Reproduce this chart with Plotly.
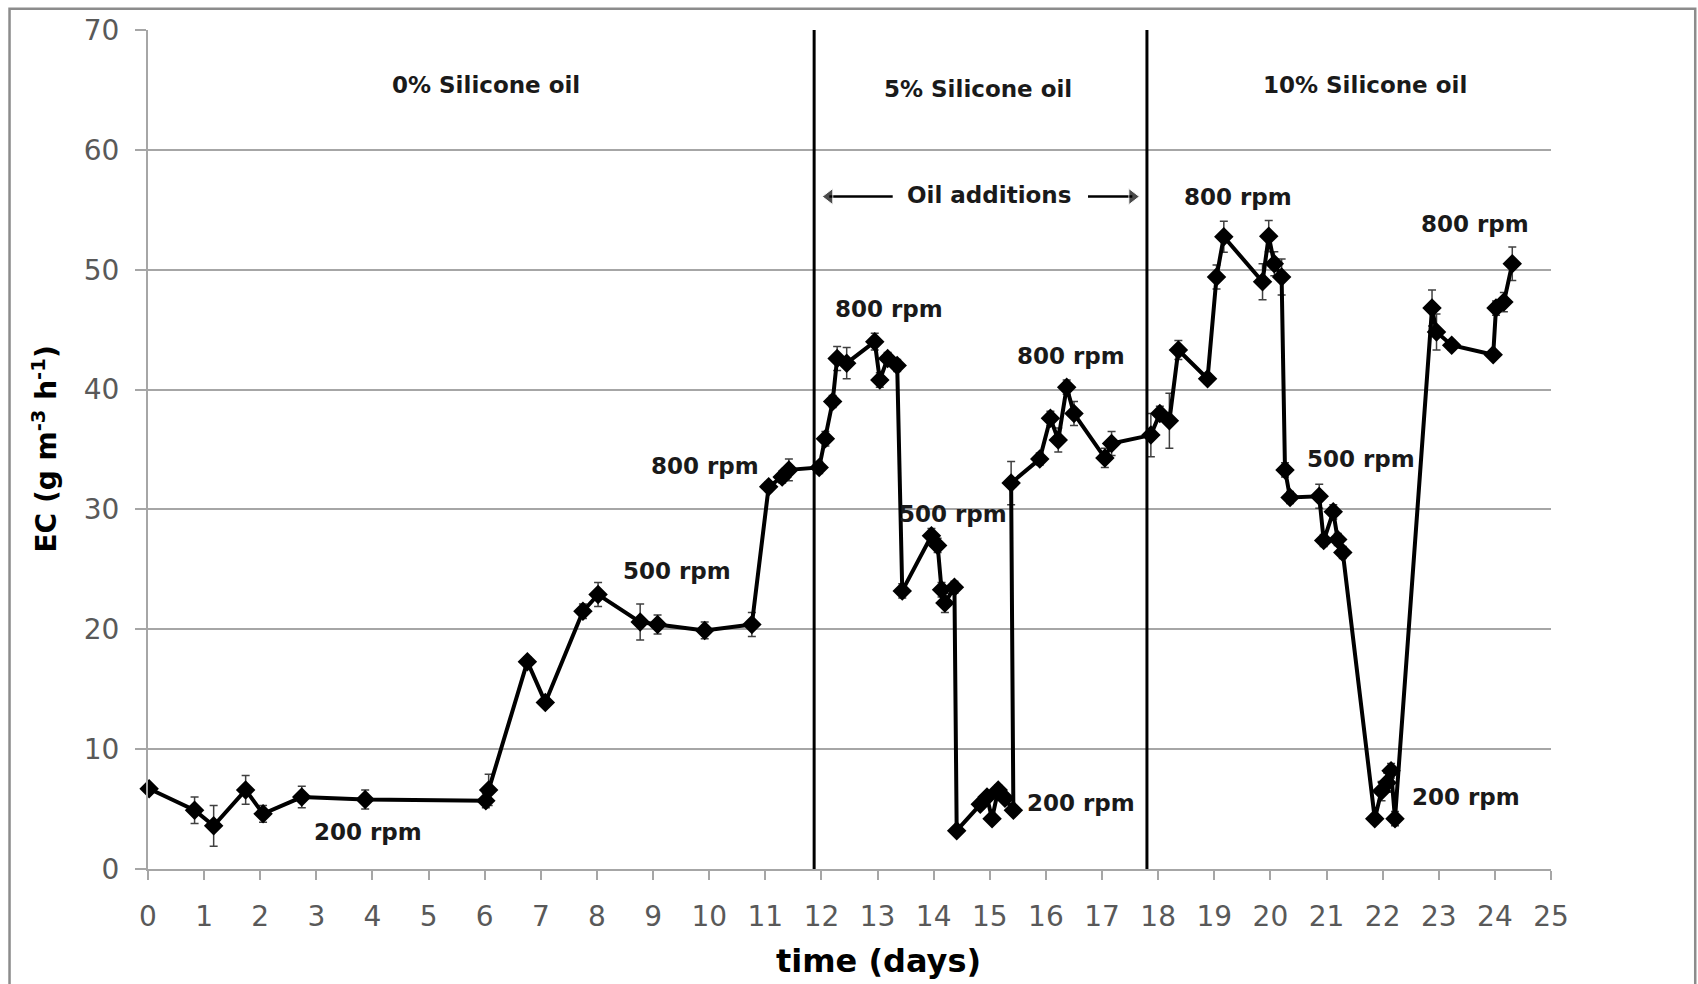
import plotly.graph_objects as go

# Elimination capacity time course (day, EC, standard deviation)
days = [
    0.02, 0.83, 1.17, 1.74, 2.05, 2.74, 3.87, 6.02, 6.07, 6.76, 7.08, 7.75, 8.02,
    8.77, 9.08, 9.92, 10.76, 11.06, 11.30, 11.42, 11.96,
    12.07, 12.20, 12.28, 12.45, 12.95, 13.04, 13.18, 13.35, 13.44, 13.96, 14.07,
    14.14, 14.20, 14.37, 14.41, 14.83, 14.95, 15.04, 15.15, 15.27, 15.42, 15.38,
    15.89, 16.08, 16.22, 16.37, 16.50, 17.05, 17.17, 17.87,
    18.03, 18.20, 18.36, 18.88, 19.04, 19.17, 19.86, 19.97, 20.07, 20.20, 20.26,
    20.35, 20.87, 20.95, 21.12, 21.20, 21.29, 21.86, 21.98, 22.08, 22.15, 22.22,
    22.88, 22.96, 23.23, 23.97, 24.02, 24.16, 24.31,
]
ec = [
    6.7, 4.9, 3.6, 6.6, 4.6, 6.0, 5.8, 5.7, 6.6, 17.3, 13.9, 21.5, 22.9,
    20.6, 20.4, 19.9, 20.4, 31.9, 32.7, 33.3, 33.5,
    35.9, 39.0, 42.6, 42.2, 44.0, 40.8, 42.6, 42.0, 23.2, 27.8, 27.0,
    23.3, 22.2, 23.5, 3.2, 5.4, 6.0, 4.2, 6.6, 5.9, 4.9, 32.2,
    34.2, 37.6, 35.8, 40.2, 38.0, 34.3, 35.5, 36.2,
    38.0, 37.4, 43.3, 40.9, 49.4, 52.75, 49.0, 52.8, 50.5, 49.4, 33.3,
    31.0, 31.1, 27.4, 29.8, 27.5, 26.4, 4.2, 6.5, 7.2, 8.2, 4.2,
    46.8, 44.8, 43.7, 42.9, 46.8, 47.3, 50.5,
]
ec_sd = [
    0.3, 1.1, 1.7, 1.2, 0.7, 0.9, 0.8, 0.6, 1.3, 0.4, 0.4, 0.6, 1.0,
    1.5, 0.8, 0.7, 1.0, 0.4, 0.5, 0.9, 0.5,
    0.6, 0.5, 1.0, 1.3, 0.7, 0.6, 0.5, 0.5, 0.6, 0.6, 0.6,
    0.6, 0.8, 0.5, 0.3, 0.4, 0.4, 0.3, 0.4, 0.4, 0.4, 1.8,
    0.5, 0.6, 1.0, 0.6, 1.0, 0.8, 1.0, 1.8,
    0.6, 2.3, 0.8, 0.4, 1.0, 1.3, 1.5, 1.3, 1.0, 1.5, 0.6,
    0.5, 1.0, 0.5, 0.6, 0.5, 0.5, 0.4, 0.8, 0.8, 0.6, 0.6,
    1.5, 1.5, 0.4, 0.3, 0.6, 0.8, 1.4,
]

# Silicone oil phase boundaries (days)
phase_bounds = [11.87, 17.8]

# Phase headers: text, x, y
phase_labels = ["0% Silicone oil", "5% Silicone oil", "10% Silicone oil"]
phase_x = [6.02, 14.79, 21.68]
phase_y = [65.45, 65.1, 65.4]

# Agitation speed labels: text, x, y
rpm_labels = ["200 rpm", "500 rpm", "800 rpm",
              "800 rpm", "500 rpm", "200 rpm", "800 rpm",
              "800 rpm", "500 rpm", "200 rpm", "800 rpm"]
rpm_x = [3.92, 9.42, 9.92, 13.2, 14.34, 16.62, 16.45, 19.42, 21.62, 23.49, 23.65]
rpm_y = [3.07, 24.9, 33.6, 46.7, 29.65, 5.5, 42.8, 56.05, 34.2, 5.97, 53.8]

# "Oil additions" arrow spans (tail, head) in days, at one EC level
arrow_left = [13.27, 12.14]
arrow_right = [16.75, 17.54]
arrow_level = 56.1

x_ticks = list(range(0, 26))
y_ticks = list(range(0, 71, 10))

LABEL_FONT = dict(family="DejaVu Sans", size=23, color="#1a1a1a", weight="bold")
TICK_FONT = dict(family="DejaVu Sans", size=28, color="#595959")
GRID = "#a6a6a6"

fig = go.Figure()

fig.add_trace(go.Scatter(
    x=days, y=ec,
    mode="lines+markers",
    line=dict(color="black", width=4),
    marker=dict(symbol="diamond", size=15, color="black"),
    error_y=dict(type="data", array=ec_sd, visible=True,
                 color="#404040", thickness=1.5, width=4),
    cliponaxis=False,
    showlegend=False,
))

# Arrows either side of the "Oil additions" label
for xs, head in ((arrow_left, "triangle-left"), (arrow_right, "triangle-right")):
    fig.add_trace(go.Scatter(
        x=xs, y=[arrow_level, arrow_level],
        mode="lines+markers",
        line=dict(color="black", width=2.5),
        marker=dict(symbol=["circle", head], size=[0, 14], color="black"),
        showlegend=False, hoverinfo="skip",
    ))

for xb in phase_bounds:
    fig.add_shape(type="line", xref="x", yref="y", x0=xb, x1=xb, y0=0, y1=70,
                  line=dict(color="black", width=3), layer="above")

annotations = []
for t, x, y in zip(phase_labels, phase_x, phase_y):
    annotations.append(dict(x=x, y=y, xref="x", yref="y", text=t,
                            showarrow=False, font=LABEL_FONT))
for t, x, y in zip(rpm_labels, rpm_x, rpm_y):
    annotations.append(dict(x=x, y=y, xref="x", yref="y", text=t,
                            showarrow=False, font=LABEL_FONT))

annotations.append(dict(x=14.98, y=56.2, xref="x", yref="y", text="Oil additions",
                        showarrow=False, font=LABEL_FONT))

# Axis titles
annotations.append(dict(x=0.521, y=-0.11, xref="paper", yref="paper",
                        text="time (days)", showarrow=False,
                        font=dict(family="DejaVu Sans", size=32, color="black",
                                  weight="bold"),
                        xanchor="center", yanchor="middle"))
annotations.append(dict(x=-0.0734, y=0.5, xref="paper", yref="paper",
                        text="EC (g m<sup>-3</sup> h<sup>-1</sup>)", showarrow=False,
                        textangle=-90,
                        font=dict(family="DejaVu Sans", size=28, color="black",
                                  weight="bold"),
                        xanchor="center", yanchor="middle"))

# Outer frame around the chart
fig.add_shape(type="rect", xref="paper", yref="paper",
              x0=-0.0987, x1=1.1028, y0=-0.145, y1=1.0254,
              line=dict(color="#8c8c8c", width=2.5), layer="below")

fig.update_layout(
    width=1698, height=984,
    margin=dict(l=148, r=147, t=30, b=115),
    paper_bgcolor="white", plot_bgcolor="white",
    annotations=annotations,
    showlegend=False,
)

fig.update_xaxes(
    range=[0, 25], tickvals=x_ticks, ticktext=[str(v) for v in x_ticks],
    showgrid=False, zeroline=False,
    showline=True, linecolor=GRID, linewidth=2,
    ticks="outside", ticklen=9, tickwidth=2, tickcolor=GRID,
    tickfont=TICK_FONT, ticklabelstandoff=12,
)
fig.update_yaxes(
    range=[0, 70], tickvals=y_ticks, ticktext=[str(v) for v in y_ticks],
    showgrid=True, gridcolor=GRID, gridwidth=2, zeroline=False,
    showline=True, linecolor=GRID, linewidth=2,
    ticks="outside", ticklen=11, tickwidth=2, tickcolor=GRID,
    tickfont=TICK_FONT, ticklabelstandoff=10,
)

fig.write_html("out.html")
